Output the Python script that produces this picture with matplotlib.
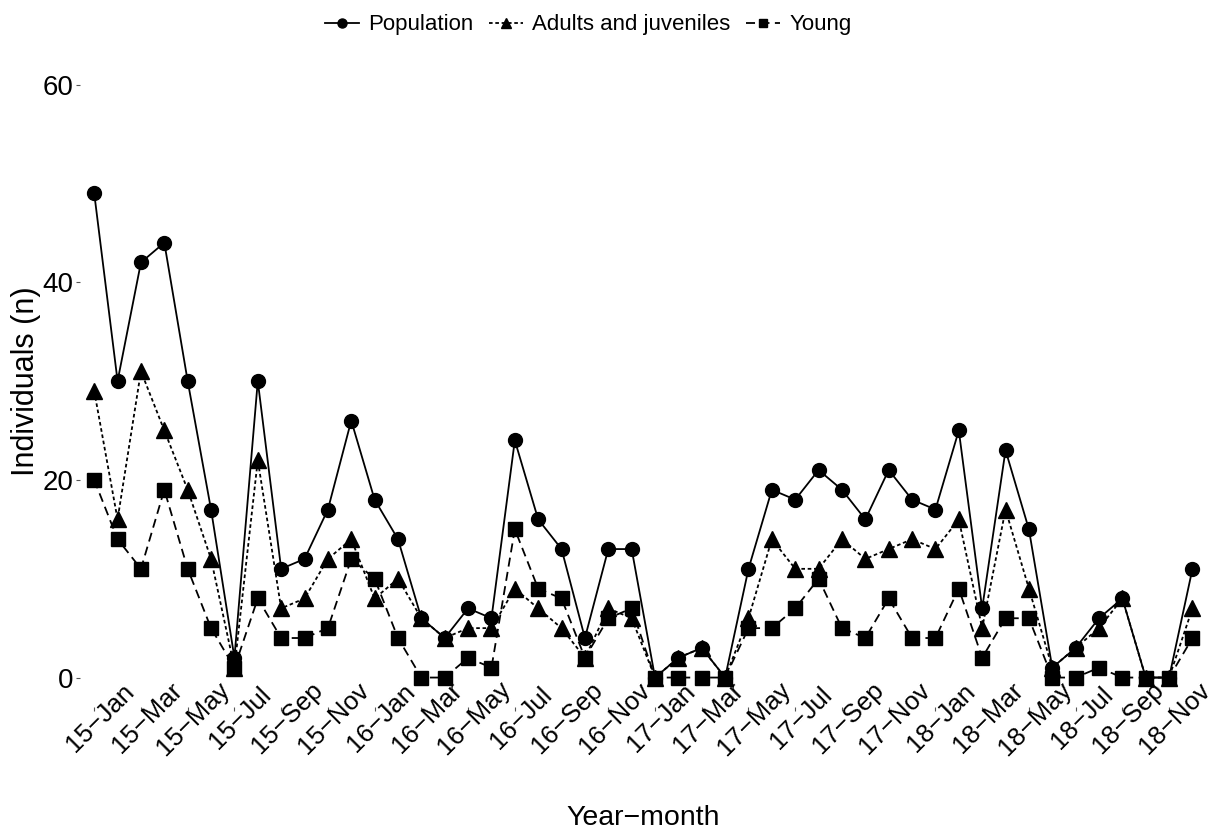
import numpy as np
import matplotlib
matplotlib.use("Agg")
import matplotlib.pyplot as plt
import matplotlib.transforms as mtransforms

plt.rcParams['font.family'] = ['Liberation Sans', 'DejaVu Sans']

# monthly counts, 2015-Jan .. 2018-Dec
months = []
for yr in ['15', '16', '17', '18']:
    for m in ['Jan', 'Feb', 'Mar', 'Apr', 'May', 'Jun', 'Jul', 'Aug', 'Sep', 'Oct', 'Nov', 'Dec']:
        months.append(yr + '\u2212' + m)

population = [49, 30, 42, 44, 30, 17, 2, 30, 11, 12, 17, 26,
              18, 14, 6, 4, 7, 6, 24, 16, 13, 4, 13, 13,
              0, 2, 3, 0, 11, 19, 18, 21, 19, 16, 21, 18,
              17, 25, 7, 23, 15, 1, 3, 6, 8, 0, 0, 11]
adults = [29, 16, 31, 25, 19, 12, 1, 22, 7, 8, 12, 14,
          8, 10, 6, 4, 5, 5, 9, 7, 5, 2, 7, 6,
          0, 2, 3, 0, 6, 14, 11, 11, 14, 12, 13, 14,
          13, 16, 5, 17, 9, 1, 3, 5, 8, 0, 0, 7]
young = [20, 14, 11, 19, 11, 5, 1, 8, 4, 4, 5, 12,
         10, 4, 0, 0, 2, 1, 15, 9, 8, 2, 6, 7,
         0, 0, 0, 0, 5, 5, 7, 10, 5, 4, 8, 4,
         4, 9, 2, 6, 6, 0, 0, 1, 0, 0, 0, 4]

x = np.arange(len(months))

fig = plt.figure(figsize=(12.15, 8.32), dpi=100)
ax = fig.add_axes([0.066, 0.150, 0.927, 0.784])

ax.plot(x, population, color='black', lw=1.3, ls='-', marker='o', ms=10, label='Population')
ax.plot(x, adults, color='black', lw=1.3, ls=(0, (2, 1.5)), marker='^', ms=11, label='Adults and juveniles')
ax.plot(x, young, color='black', lw=1.3, ls=(0, (5, 3)), marker='s', ms=9.5, label='Young')

ax.set_xlim(-0.6, len(months) - 0.4)
ax.set_ylim(-3, 63)
ax.set_yticks([0, 20, 40, 60])
ax.set_xticks(x[::2])
ax.set_xticklabels(months[::2], rotation=45, ha='center', va='center',
                   rotation_mode='anchor', fontsize=18.5)

ax.tick_params(axis='x', length=3, width=0.8, color='#555555', pad=5)
ax.tick_params(axis='y', length=3, width=0.8, color='#555555', labelsize=20, pad=2)
for s in ax.spines.values():
    s.set_visible(False)

# nudge rotated month labels to the right, like the original
offset = mtransforms.ScaledTranslation(6 / 100, 0, fig.dpi_scale_trans)
for lab in ax.get_xticklabels():
    lab.set_transform(lab.get_transform() + offset)

ax.set_xlabel('Year\u2212month', fontsize=20.5, labelpad=33)
ax.set_ylabel('Individuals (n)', fontsize=22, labelpad=1)

fig.legend(loc='center', bbox_to_anchor=(0.484, 0.97), ncol=3, frameon=False,
           fontsize=16, handlelength=1.55, handletextpad=0.4, columnspacing=0.7,
           markerscale=0.65)

fig.savefig('out.png', dpi=100)
